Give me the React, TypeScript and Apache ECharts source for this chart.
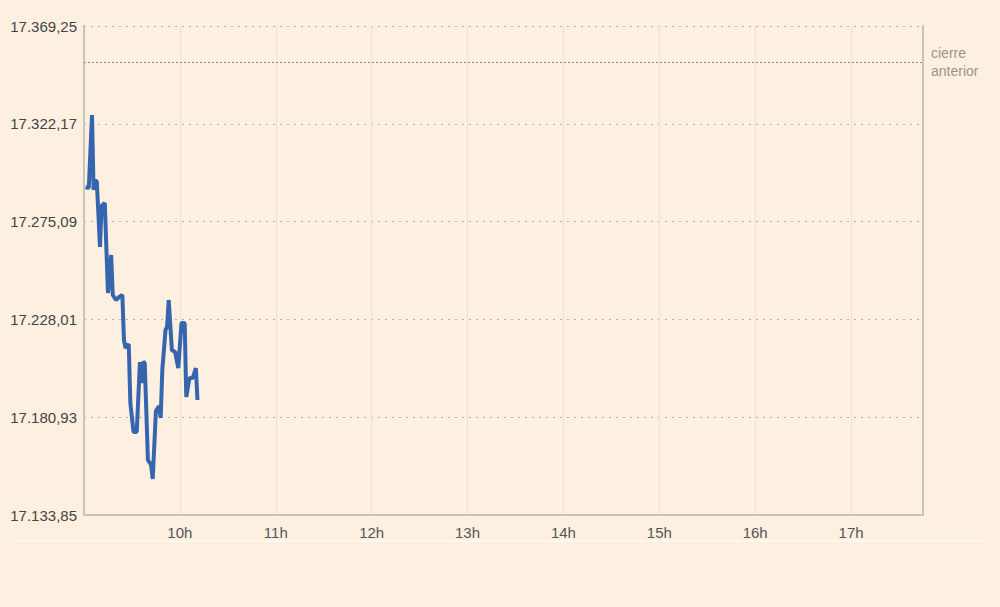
import React, { useEffect, useRef } from "react";
import * as echarts from "echarts";

// Intraday data (time of day, index value)
const times = [
  "09:01", "09:03", "09:05", "09:06", "09:07", "09:08", "09:10", "09:11", "09:13", "09:15",
  "09:17", "09:18", "09:20", "09:22", "09:24", "09:25", "09:26", "09:28", "09:29", "09:31",
  "09:33", "09:35", "09:36", "09:37", "09:38", "09:40", "09:42", "09:43", "09:45", "09:47",
  "09:48", "09:49", "09:51", "09:52", "09:53", "09:55", "09:57", "09:59", "10:01", "10:03",
  "10:04", "10:06", "10:08", "10:10", "10:11",
];
const values = [
  17291.75, 17291.26, 17326.41, 17290.3, 17294.63, 17294.63, 17262.86, 17282.6, 17284.04, 17240.72,
  17259.01, 17239.76, 17237.35, 17238.79, 17239.76, 17218.09, 17214.24, 17216.17, 17187.77, 17173.81,
  17173.81, 17207.5, 17197.39, 17207.5, 17207.02, 17160.33, 17157.92, 17151.18, 17183.91, 17186.32,
  17180.55, 17203.65, 17222.91, 17224.35, 17237.35, 17213.28, 17212.32, 17204.61, 17226.28, 17226.28,
  17190.65, 17199.8, 17199.8, 17204.61, 17189.21,
];
const previousClose = 17351.92;
const Y_MIN = 17133.85;
const Y_MAX = 17369.25;
const Y_STEP = 47.08;
const X_START_HOUR = 9;
const X_END_MIN = 525; // 17:45
const hourLabels = ["10h", "11h", "12h", "13h", "14h", "15h", "16h", "17h"];

function toMin(t: string) {
  const [h, m] = t.split(":").map(Number);
  return (h - X_START_HOUR) * 60 + m;
}
function fmtEs(n: number) {
  const [i, d] = n.toFixed(2).split(".");
  return i.replace(/\B(?=(\d{3})+(?!\d))/g, ".") + "," + d;
}

export default function App() {
  const ref = useRef<HTMLDivElement>(null);
  useEffect(() => {
    document.body.style.margin = "0";
    if (!ref.current) return;
    const chart = echarts.init(ref.current, undefined, { renderer: "svg" });
    const data = times.map((t, i) => [toMin(t), values[i] - Y_MIN]);
    const font = "'Liberation Sans', Arial, sans-serif";
    chart.setOption({
      animation: false,
      backgroundColor: "#fdf0e1",
      textStyle: { fontFamily: font },
      grid: { left: 84, right: 77, top: 26, bottom: 92 },
      xAxis: {
        type: "value",
        min: 0,
        max: X_END_MIN,
        interval: 60,
        axisLine: { show: true, lineStyle: { color: "#c9c3bc", width: 2 } },
        axisTick: { show: false },
        axisLabel: {
          showMinLabel: false,
          showMaxLabel: false,
          color: "#555",
          fontSize: 15,
          margin: 10,
          fontFamily: font,
          formatter: (v: number) => {
            const idx = Math.round(v / 60) - 1;
            return hourLabels[idx] ?? "";
          },
        },
        splitLine: { show: true, lineStyle: { color: "#f1e2d0", width: 1 } },
      },
      yAxis: [
        {
          type: "value",
          min: 0,
          max: Y_MAX - Y_MIN,
          interval: Y_STEP,
          axisLine: { show: true, lineStyle: { color: "#c9c3bc", width: 2 } },
          axisTick: { show: false },
          axisLabel: {
            color: "#444",
            fontSize: 15,
            margin: 7,
            fontFamily: font,
            formatter: (v: number) => fmtEs(Y_MIN + v),
          },
          splitLine: { show: true, lineStyle: { color: "#b5aea6", type: [2, 5], width: 1 } },
        },
        {
          type: "value",
          position: "right",
          min: 0,
          max: Y_MAX - Y_MIN,
          interval: Y_STEP,
          axisLine: { show: true, lineStyle: { color: "#c9c3bc", width: 2 } },
          axisTick: { show: false },
          axisLabel: { show: false },
          splitLine: { show: false },
        },
      ],
      graphic: [
        {
          type: "line",
          shape: { x1: 12, y1: 541, x2: 985, y2: 541 },
          style: { stroke: "#fff8ef", lineWidth: 1.5 },
          silent: true,
        },
      ],
      series: [
        {
          type: "line",
          data,
          showSymbol: false,
          symbol: "none",
          lineStyle: { color: "#3565ae", width: 4 },
          markLine: {
            silent: true,
            symbol: "none",
            lineStyle: { color: "#8f8a84", type: [2, 2], width: 1 },
            label: {
              show: true,
              position: "end",
              formatter: "cierre\nanterior",
              color: "#9a948e",
              fontSize: 14,
              lineHeight: 18,
              distance: 8,
              fontFamily: font,
            },
            data: [{ yAxis: previousClose - Y_MIN }],
          },
        },
      ],
    });
    return () => chart.dispose();
  }, []);
  return <div ref={ref} style={{ width: 1000, height: 607 }} />;
}
